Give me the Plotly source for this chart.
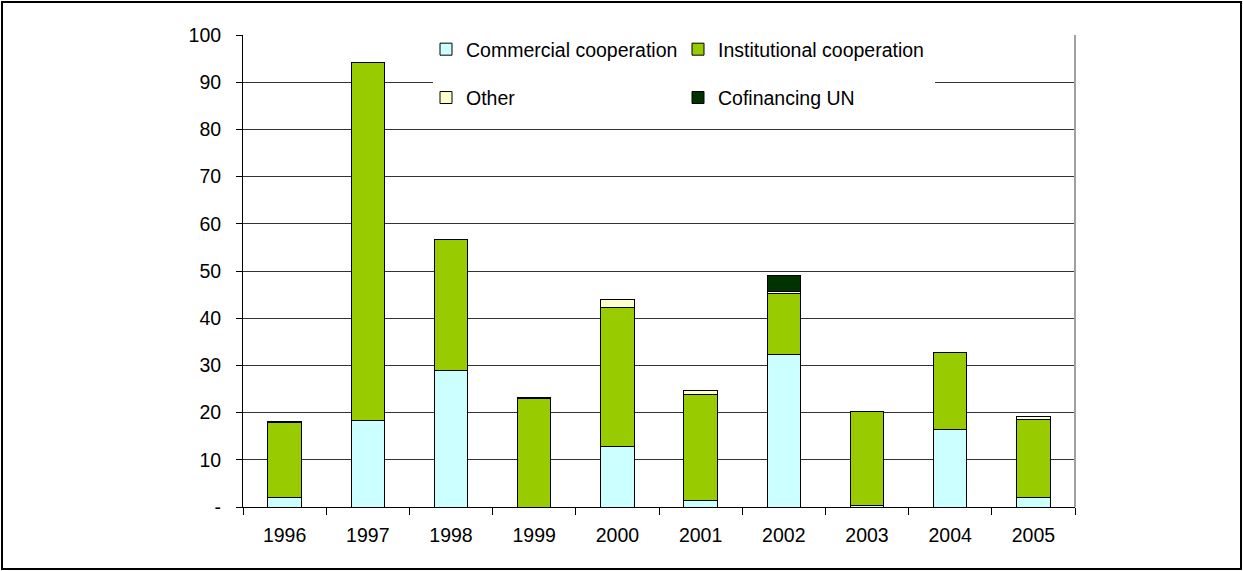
import plotly.graph_objects as go

years = ["1996", "1997", "1998", "1999", "2000", "2001", "2002", "2003", "2004", "2005"]
commercial = [2.0, 18.4, 29.0, 0.0, 12.8, 1.3, 32.4, 0.3, 16.5, 2.0]
institutional = [16.0, 75.7, 27.6, 23.0, 29.5, 22.6, 12.9, 19.9, 16.3, 16.6]
other = [0.2, 0.0, 0.0, 0.2, 1.6, 0.7, 0.3, 0.0, 0.0, 0.6]
cofinancing = [0.0, 0.0, 0.0, 0.0, 0.0, 0.0, 3.4, 0.0, 0.0, 0.0]

y_tickvals = [0, 10, 20, 30, 40, 50, 60, 70, 80, 90, 100]
y_ticktext = ["-", "10", "20", "30", "40", "50", "60", "70", "80", "90", "100"]

FONT = "Liberation Sans, Arial, sans-serif"
FS = 19.5
W, H = 1243, 571
L, R, T, B = 243, 168, 35, 64
PW, PH = W - L - R, H - T - B


def px(x):
    return (x - L) / PW


def py(y):
    return (H - B - y) / PH


series = [
    ("Commercial cooperation", commercial, "#CCFFFF", "legend"),
    ("Institutional cooperation", institutional, "#99CC00", "legend2"),
    ("Other", other, "#FFFFCC", "legend"),
    ("Cofinancing UN", cofinancing, "#003300", "legend2"),
]

fig = go.Figure()
for name, vals, color, lg in series:
    fig.add_trace(go.Bar(
        x=years, y=vals, name=name, legend=lg, legendgroup=name,
        marker=dict(color=color, line=dict(color="#000000", width=1)),
    ))

fig.update_layout(
    width=W, height=H,
    margin=dict(l=L, r=R, t=T, b=B),
    barmode="stack", bargap=0.6,
    paper_bgcolor="white", plot_bgcolor="white",
    font=dict(family=FONT, size=FS, color="#000000"),
    xaxis=dict(
        showline=True, linecolor="#000000", linewidth=1,
        ticks="outside", ticklen=7, tickcolor="#000000", tickson="boundaries",
        showgrid=False, ticklabelstandoff=11,
        tickfont=dict(size=FS),
    ),
    yaxis=dict(
        range=[0, 100], tickvals=y_tickvals, ticktext=y_ticktext,
        showline=True, linecolor="#000000", linewidth=1,
        ticks="outside", ticklen=6, tickcolor="#000000",
        showgrid=True, gridcolor="#333333", gridwidth=1,
        zeroline=False, ticklabelstandoff=11,
        tickfont=dict(size=FS),
    ),
    legend=dict(
        x=px(426), y=py(30), xanchor="left", yanchor="top",
        bgcolor="rgba(0,0,0,0)", tracegroupgap=20,
        font=dict(size=FS), traceorder="grouped",
    ),
    legend2=dict(
        x=px(678), y=py(30), xanchor="left", yanchor="top",
        bgcolor="rgba(0,0,0,0)", tracegroupgap=20,
        font=dict(size=FS), traceorder="grouped",
    ),
    showlegend=True,
    shapes=[
        dict(type="rect", xref="paper", yref="paper",
             x0=px(433), x1=px(935), y0=py(116), y1=py(28),
             fillcolor="white", line=dict(width=0), layer="above"),
        dict(type="line", xref="paper", yref="paper",
             x0=1, x1=1, y0=0, y1=1,
             line=dict(color="#A0A0A0", width=2), layer="above"),
        dict(type="rect", xref="paper", yref="paper",
             x0=px(2), x1=px(1241), y0=py(569), y1=py(2),
             line=dict(color="#000000", width=2), fillcolor="rgba(0,0,0,0)",
             layer="above"),
    ],
)

fig.write_html("out.html")
